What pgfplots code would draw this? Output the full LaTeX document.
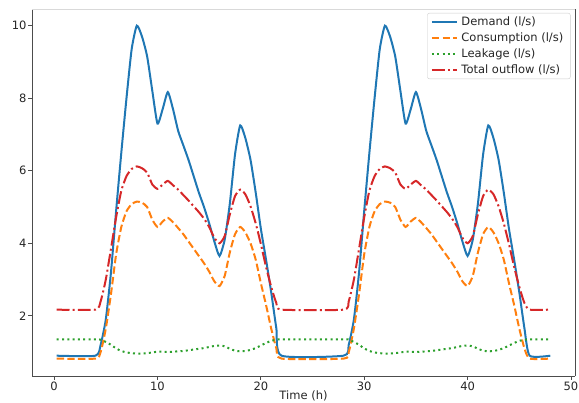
\documentclass[border=0pt]{standalone}
\usepackage{pgfplots}
\pgfplotsset{compat=1.18}
\usepackage{pgfplotstable}
\usepackage{fontspec}
\setmainfont{DejaVu Sans}
\definecolor{c0}{HTML}{1F77B4}
\definecolor{c1}{HTML}{FF7F0E}
\definecolor{c2}{HTML}{2CA02C}
\definecolor{c3}{HTML}{D62728}
\pgfplotstableread{
t D C L T
0.25 0.9 0.82 1.35 2.17
4.0 0.9 0.82 1.35 2.17
4.5 1.2 1.0 1.34 2.4
5.0 1.9 1.65 1.28 3.0
5.5 3.2 2.6 1.2 3.85
6.0 4.9 3.7 1.1 4.72
6.5 6.5 4.45 1.03 5.45
7.0 8.0 4.88 0.99 5.85
7.5 9.35 5.08 0.97 6.05
8.0 10.0 5.15 0.96 6.12
8.5 9.7 5.12 0.96 6.07
9.0 9.15 5.0 0.97 5.95
9.5 8.2 4.65 0.99 5.62
10.0 7.3 4.45 1.01 5.5
10.5 7.7 4.6 1.01 5.62
11.0 8.17 4.7 1.0 5.72
11.5 7.7 4.58 1.01 5.6
12.0 7.1 4.42 1.02 5.48
12.5 6.7 4.25 1.03 5.33
13.0 6.3 4.05 1.05 5.18
13.5 5.85 3.85 1.07 5.02
14.0 5.4 3.65 1.09 4.86
14.5 5.0 3.45 1.11 4.68
15.0 4.55 3.22 1.14 4.45
15.5 4.05 2.95 1.17 4.15
16.0 3.65 2.82 1.18 4.0
16.5 4.1 3.1 1.16 4.2
17.0 5.1 3.75 1.09 4.8
17.5 6.45 4.25 1.04 5.3
18.0 7.25 4.45 1.02 5.48
18.5 6.9 4.3 1.03 5.35
19.0 6.3 4.0 1.06 5.02
19.5 5.4 3.55 1.11 4.55
20.0 4.4 2.9 1.18 3.98
20.5 3.55 2.3 1.25 3.35
21.0 2.65 1.65 1.31 2.8
21.5 1.65 1.1 1.34 2.35
22.0 0.9 0.82 1.35 2.17
28.0 0.9 0.82 1.35 2.17
28.5 1.2 1.0 1.34 2.4
29.0 1.9 1.65 1.28 3.0
29.5 3.2 2.6 1.2 3.85
30.0 4.9 3.7 1.1 4.72
30.5 6.5 4.45 1.03 5.45
31.0 8.0 4.88 0.99 5.85
31.5 9.35 5.08 0.97 6.05
32.0 10.0 5.15 0.96 6.12
32.5 9.7 5.12 0.96 6.07
33.0 9.15 5.0 0.97 5.95
33.5 8.2 4.65 0.99 5.62
34.0 7.3 4.45 1.01 5.5
34.5 7.7 4.6 1.01 5.62
35.0 8.17 4.7 1.0 5.72
35.5 7.7 4.58 1.01 5.6
36.0 7.1 4.42 1.02 5.48
36.5 6.7 4.25 1.03 5.33
37.0 6.3 4.05 1.05 5.18
37.5 5.85 3.85 1.07 5.02
38.0 5.4 3.65 1.09 4.86
38.5 5.0 3.45 1.11 4.68
39.0 4.55 3.22 1.14 4.45
39.5 4.05 2.95 1.17 4.15
40.0 3.65 2.82 1.18 4.0
40.5 4.1 3.1 1.16 4.2
41.0 5.1 3.75 1.09 4.8
41.5 6.45 4.25 1.04 5.3
42.0 7.25 4.45 1.02 5.48
42.5 6.9 4.3 1.03 5.35
43.0 6.3 4.0 1.06 5.02
43.5 5.4 3.55 1.11 4.55
44.0 4.4 2.9 1.18 3.98
44.5 3.55 2.3 1.25 3.35
45.0 2.65 1.65 1.31 2.8
45.5 1.65 1.1 1.34 2.35
46.0 0.9 0.82 1.35 2.17
48.0 0.9 0.82 1.35 2.17
}\datatable
\begin{document}
\fontsize{11.5}{13.5}\selectfont
\begin{tikzpicture}
\begin{axis}[
  name=ax,
  scale only axis,
  width=543pt, height=367pt,
  xmin=-2.14, xmax=50.39,
  ymin=0.34, ymax=10.46,
  xtick={0,10,20,30,40,50},
  ytick={2,4,6,8,10},
  tick align=outside,
  tick pos=left,
  major tick length=3.85pt,
  every tick/.style={black!70, line width=0.8pt},
  axis line style={black!70, line width=0.9pt},
  axis x line*=bottom, axis y line*=left,
  /pgf/number format/assume math mode=true,
  tick label style={font=\fontsize{11.5}{13.5}\selectfont, text=black!85},
  xticklabel style={inner sep=1pt, yshift=-0.5pt},
  yticklabel style={inner sep=1.5pt},
  xlabel={Time (h)},
  xlabel style={font=\fontsize{11.5}{13.5}\selectfont, text=black!85, yshift=4.5pt},
  legend cell align=left,
  legend style={at={(rel axis cs:1,1)}, anchor=north east, xshift=-4.5pt, yshift=-4pt,
    draw=black!20, rounded corners=2pt, font=\fontsize{11.5}{13.5}\selectfont,
    inner xsep=3.5pt, inner ysep=1.5pt, row sep=1.6pt, text=black!85,
    nodes={inner xsep=3.5pt}},
  legend image code/.code={\draw[#1] (0pt,0pt) -- (25pt,0pt);},
  every axis plot/.append style={line width=2pt, line cap=butt},
  clip=false,
]
\addplot[c0, solid, smooth, tension=0.35] table[x=t,y=D] {\datatable};
\addlegendentry{Demand (l/s)}
\addplot[c1, dash pattern=on 7.4pt off 3.2pt, smooth, tension=0.35] table[x=t,y=C] {\datatable};
\addlegendentry{Consumption (l/s)}
\addplot[c2, dash pattern=on 2pt off 3.3pt, smooth, tension=0.35] table[x=t,y=L] {\datatable};
\addlegendentry{Leakage (l/s)}
\addplot[c3, dash pattern=on 12.8pt off 3.2pt on 2pt off 3.2pt, smooth, tension=0.35] table[x=t,y=T] {\datatable};
\addlegendentry{Total outflow (l/s)}
\end{axis}
\draw[black!15, line width=0.8pt] (ax.north west) -- (ax.north east);
\draw[black!70, line width=0.9pt] (ax.south east) -- (ax.north east);
\pgfresetboundingbox
\useasboundingbox ([shift={(-32pt,-26pt)}]ax.south west) rectangle ([shift={(4pt,9pt)}]ax.north east);
\end{tikzpicture}
\end{document}
